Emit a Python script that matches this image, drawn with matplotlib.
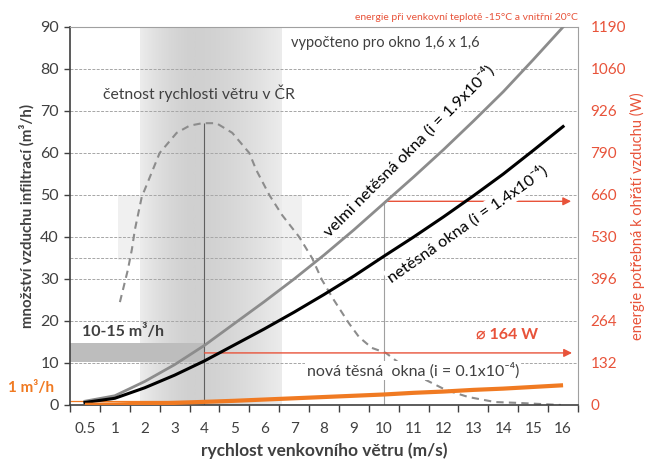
import numpy as np
import matplotlib.pyplot as plt
from matplotlib.colors import LinearSegmentedColormap

plt.rcParams['font.family'] = ['Lato', 'DejaVu Sans']

# wind speed categories (m/s)
speeds = ['0.5', '1', '2', '3', '4', '5', '6', '7', '8', '9', '10', '11', '12', '13', '14', '15', '16']

# infiltration (m3/h)
very_leaky = [0.9, 2.2, 5.6, 9.6, 14.2, 19.4, 24.6, 30.0, 35.7, 41.7, 48.0, 54.3, 60.8, 67.6, 74.6, 82.2, 90.0]
leaky = [0.6, 1.6, 4.1, 7.1, 10.5, 14.3, 18.1, 22.1, 26.3, 30.7, 35.4, 40.0, 44.8, 49.8, 55.0, 60.6, 66.3]
tight = [0.05, 0.12, 0.3, 0.5, 0.75, 1.0, 1.3, 1.6, 1.9, 2.2, 2.5, 2.9, 3.2, 3.6, 3.9, 4.3, 4.7]

# wind frequency curve (category position, scaled frequency)
freq_x = [1.17, 1.43, 1.57, 1.67, 1.9, 2.5, 3.07, 3.5, 3.93, 4.4, 4.93, 5.5, 5.73, 6.17, 6.6, 7.17,
          7.6, 7.93, 8.33, 8.83, 9.17, 9.6, 10.07, 10.7, 11.4, 12.07, 12.83, 13.73, 14.5, 15.93]
freq_y = [24.5, 32, 37, 41.7, 49.5, 60, 64.8, 66.5, 67.1, 67.1, 64.8, 60, 56, 50, 45.2, 40,
          35, 29.8, 25, 19.5, 16.2, 13.6, 12.4, 9, 6, 3.6, 1.9, 0.7, 0.5, 0]

left_ticks = [0, 10, 20, 30, 40, 50, 60, 70, 80, 90]
energy_labels = ['0', '132', '264', '396', '530', '660', '790', '926', '1060', '1190']

DARK = '#404040'
RED = '#e8533a'
ORANGE = '#f07a22'

x = np.arange(len(speeds))

fig = plt.figure(figsize=(6.49, 4.63), dpi=100)
ax = fig.add_axes([70/649, 58/463, 508/649, 378/463])
ax.set_xlim(-0.5, len(speeds) - 0.5)
ax.set_ylim(0, 90)

# shaded bands of the wind frequency
ax.fill_between([1.1, 7.27], 34.5, 50, color='#f0f0f0', lw=0, zorder=0)
cmap = LinearSegmentedColormap.from_list('band', ['#ececec', '#d0d0d0'])
t = np.linspace(0, 1, 200)
prof = np.clip(1 - np.abs((t - 0.38) / np.where(t < 0.38, 0.38, 0.62)) ** 1.6, 0, 1)
ax.imshow(prof[None, :], cmap=cmap, aspect='auto', extent=[1.83, 6.57, 0, 90],
          vmin=0, vmax=1, zorder=0.5)
ax.fill_between([-0.5, 4], 10.2, 14.8, color='#bdbdbd', lw=0, zorder=0.8)

# grid
for g in left_ticks[1:-1] + [35]:
    ax.axhline(g, color='#a6a6a6', lw=0.7, ls=(0, (3, 1.5)), zorder=1)

ax.vlines(4, 0, 67.1, color='#606060', lw=0.8, zorder=1.5)
ax.vlines(10, 0, 48.5, color='#a0a0a0', lw=0.8, zorder=1.5)
ax.hlines(1, -0.5, 5, color=ORANGE, lw=0.9, zorder=1.5)

ax.plot(freq_x, freq_y, color='#8c8c8c', lw=1.5, ls=(0, (3.5, 2.5)), zorder=2)
ax.plot(x, very_leaky, color='#8c8c8c', lw=2, zorder=3)
ax.plot(x, leaky, color='black', lw=2.2, zorder=3)
ax.plot(x, tight, color=ORANGE, lw=3, zorder=3, solid_capstyle='butt')

arrow = dict(arrowstyle='-|>', color=RED, lw=1, mutation_scale=12, shrinkA=0, shrinkB=0)
ax.annotate('', xy=(16.27, 48.5), xytext=(10.05, 48.5), arrowprops=arrow, zorder=2.5,
            annotation_clip=False)
ax.annotate('', xy=(16.3, 12.4), xytext=(4, 12.4), arrowprops=arrow, zorder=2.5,
            annotation_clip=False)

# labels in the plot
wbox = dict(facecolor='white', edgecolor='none', pad=1)
ax.text(6.9, 86.2, 'vypočteno pro okno 1,6 x 1,6', fontsize=10.5, color=DARK, va='center', zorder=5)
ax.text(0.6, 74.3, 'četnost rychlosti větru v ČR', fontsize=11.3, color=DARK, va='center', zorder=5)
ax.text(-0.1, 17.4, '10-15 m³/h', fontsize=11.5, color=DARK, fontweight='bold', va='center', zorder=5)
ax.text(-2.57, 4, '1 m³/h', fontsize=11, color=ORANGE, fontweight='bold', va='center',
        clip_on=False, zorder=5)
ax.text(14.13, 16.7, '⌀ 164 W', fontsize=11.5, color=RED, fontweight='bold', ha='center',
        va='center', zorder=5)
ax.text(10.97, 8.3, 'nová těsná  okna (i = 0.1x10⁻⁴)', fontsize=11.5, color=DARK, ha='center',
        va='center', bbox=wbox, zorder=5)
ax.text(10.85, 60.6, 'velmi netěsná okna (i = 1.9x10⁻⁴)', fontsize=11.8, color='black',
        ha='center', va='center', rotation=45, rotation_mode='anchor', bbox=wbox, zorder=5)
ax.text(12.8, 43.0, 'netěsná okna (i = 1.4x10⁻⁴)', fontsize=11.8, color='black',
        ha='center', va='center', rotation=35, rotation_mode='anchor', bbox=wbox, zorder=5)

# axes styling
ax.set_xticks(x)
ax.set_xticklabels(speeds)
ax.set_xticks(np.arange(-0.5, len(speeds)), minor=True)
ax.tick_params(axis='x', which='major', length=0, pad=12, labelsize=11, labelcolor=DARK)
ax.tick_params(axis='x', which='minor', length=5, width=1, color=DARK)
ax.set_yticks(left_ticks)
ax.tick_params(axis='y', length=4, width=1, color=DARK, labelsize=11.5, labelcolor=DARK, pad=4)
for s in ['left', 'bottom']:
    ax.spines[s].set_color(DARK)
    ax.spines[s].set_linewidth(1.2)
for s in ['top', 'right']:
    ax.spines[s].set_color('#a0a0a0')
    ax.spines[s].set_linewidth(0.8)
ax.set_xlabel('rychlost venkovního větru (m/s)', fontsize=12.5, fontweight='bold', color=DARK, labelpad=5)
ax.set_ylabel('množství vzduchu infiltrací (m³/h)', fontsize=10.8, fontweight='bold', color=DARK, labelpad=4)

ax2 = ax.twinx()
ax2.set_ylim(0, 90)
ax2.set_yticks(left_ticks)
ax2.set_yticklabels(energy_labels)
ax2.tick_params(axis='y', length=0, labelsize=11, labelcolor=RED, pad=9)
for s in ax2.spines.values():
    s.set_visible(False)
ax2.set_ylabel('energie potřebná k ohřátí vzduchu (W)', fontsize=10.5, color=RED, labelpad=3)

fig.text(578/649, 1 - 17/463, 'energie při venkovní teplotě -15°C a vnitřní 20°C', fontsize=7.5,
         color=RED, ha='right', va='center')

fig.savefig('out.png', dpi=100)
